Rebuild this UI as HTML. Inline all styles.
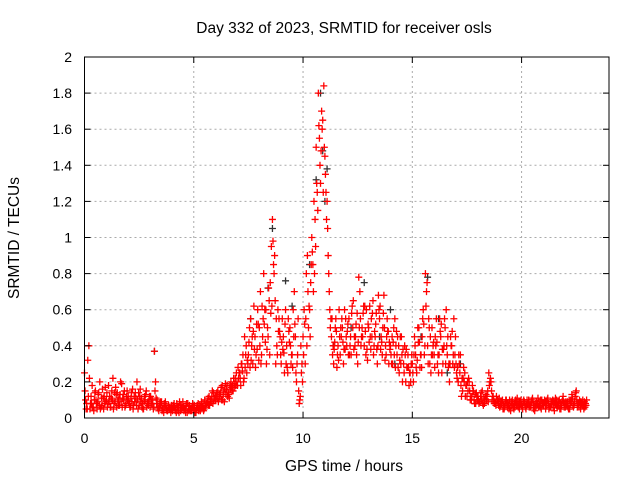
<!DOCTYPE html>
<html><head><meta charset="utf-8"><style>
body{margin:0;background:#fff;}
svg{display:block;font-family:"Liberation Sans",sans-serif;}
</style></head><body>
<svg id="chart" width="640" height="480">
<rect width="640" height="480" fill="#fff"/>
<text x="344" y="33" font-size="15.5" text-anchor="middle">Day 332 of 2023, SRMTID for receiver osls</text>
<text x="344" y="471" font-size="15.5" text-anchor="middle">GPS time / hours</text>
<text x="19" y="238" font-size="15.5" text-anchor="middle" transform="rotate(-90 19 238)">SRMTID / TECUs</text>
<g id="grid"></g><g id="pts"></g><g id="axes"></g>
</svg>
<script>
const xTicks=[0,5,10,15,20];
const yTicks=[0,0.2,0.4,0.6,0.8,1,1.2,1.4,1.6,1.8,2];
const yTickLabels=["0","0.2","0.4","0.6","0.8","1","1.2","1.4","1.6","1.8","2"];
const startHour=0, stepHours=0.1;
const redA=[.25,.08,.40,.12,.06,.15,.09,.20,.07,.12,
.10,.18,.06,.22,.09,.14,.07,.19,.10,.08,
.12,.06,.16,.09,.20,.07,.11,.05,.13,.09,
.06,.10,.37,.08,.04,.07,.05,.09,.04,.06,
.05,.08,.03,.06,.04,.09,.05,.03,.07,.04,
.05,.03,.08,.04,.06,.10,.08,.12,.09,.14,
.10,.15,.12,.18,.09,.16,.13,.20,.15,.22,
.18,.25,.30,.22,.40,.35,.55,.30,.45,.38,
.50,.35,.80,.60,.45,.75,1.10,.90,.40,.55,
.30,.45,.60,.25,.50,.35,.70,.20,.15,.40,
.45,.30,.90,.60,1.00,1.20,1.50,1.80,1.30,1.65,
1.45,1.20,.70,.45,.30,.55,.40,.35,.50,.60,
.40,.55,.35,.65,.45,.30,.70,.50,.40,.60,
.50,.38,.65,.45,.30,.55,.42,.68,.35,.48,
.40,.30,.55,.35,.25,.45,.30,.20,.35,.25,
.30,.45,.25,.50,.35,.60,.80,.40,.30,.50,
.35,.55,.25,.45,.30,.50,.35,.20,.40,.55,
.30,.20,.35,.15,.25,.12,.20,.10,.15,.08,
.12,.09,.15,.08,.10,.25,.20,.12,.08,.10,
.06,.09,.05,.10,.07,.04,.08,.06,.11,.05,
.07,.10,.05,.08,.06,.11,.04,.07,.09,.05,
.08,.05,.11,.06,.09,.04,.10,.07,.05,.12,
.06,.09,.05,.13,.07,.15,.08,.05,.10,.06];
const redB=[.10,.32,.05,.18,.10,.08,.14,.06,.11,.17,
.06,.12,.15,.08,.13,.07,.20,.11,.06,.15,
.08,.14,.07,.11,.05,.16,.08,.12,.06,.10,
.10,.05,.20,.06,.08,.04,.08,.05,.07,.03,
.07,.04,.06,.09,.05,.04,.07,.05,.04,.08,
.03,.07,.05,.09,.04,.07,.11,.09,.15,.11,
.14,.11,.17,.13,.19,.12,.18,.15,.19,.25,
.22,.18,.35,.28,.32,.50,.40,.62,.35,.52,
.70,.45,.60,.38,.65,.95,.85,.30,.60,.45,
.55,.25,.40,.48,.30,.60,.45,.35,.10,.30,
.60,.80,.50,.75,.85,1.10,1.25,1.55,1.70,1.84,
1.25,.90,.50,.35,.42,.28,.60,.45,.30,.55,
.52,.40,.62,.45,.35,.78,.40,.58,.48,.32,
.62,.45,.40,.58,.68,.38,.50,.32,.55,.42,
.30,.50,.40,.28,.45,.20,.40,.28,.18,.30,
.20,.35,.50,.28,.45,.35,.70,.55,.25,.40,
.45,.30,.55,.25,.40,.60,.28,.45,.30,.35,
.22,.30,.12,.28,.18,.15,.10,.18,.08,.12,
.08,.14,.07,.12,.15,.20,.10,.08,.12,.07,
.09,.05,.08,.06,.10,.07,.05,.09,.06,.08,
.05,.08,.10,.06,.09,.05,.08,.11,.06,.08,
.10,.07,.05,.09,.06,.11,.07,.05,.09,.06,
.08,.05,.10,.07,.12,.06,.10,.08,.05,.07];
const redC=[.15,.05,.22,.08,.04,.10,.13,.05,.16,.08,
.14,.09,.11,.05,.17,.10,.13,.06,.15,.12,
.09,.11,.05,.14,.10,.12,.06,.09,.15,.07,
.12,.08,.15,.10,.06,.09,.03,.07,.06,.05,
.04,.06,.08,.03,.07,.06,.03,.08,.05,.06,
.07,.05,.04,.06,.08,.06,.09,.07,.12,.10,
.12,.09,.14,.10,.16,.18,.11,.17,.22,.18,
.28,.22,.26,.45,.25,.42,.32,.48,.28,.60,
.40,.62,.52,.30,.72,.58,.98,.65,.35,.48,
.42,.36,.30,.55,.40,.28,.52,.30,.08,.25,
.35,.55,.70,.45,.92,.80,1.30,1.62,1.48,1.25,
1.35,1.05,.60,.55,.38,.48,.32,.50,.42,.38,
.48,.35,.58,.38,.52,.42,.55,.45,.62,.38,
.42,.55,.35,.52,.40,.62,.35,.50,.45,.30,
.35,.42,.28,.45,.32,.35,.25,.38,.28,.20,
.25,.40,.32,.42,.28,.52,.62,.30,.45,.35,
.28,.42,.35,.52,.38,.30,.45,.30,.48,.28,
.25,.35,.18,.22,.12,.20,.15,.12,.10,.14,
.10,.12,.08,.10,.12,.18,.15,.10,.07,.09,
.07,.10,.06,.08,.05,.09,.06,.10,.07,.09,
.06,.09,.07,.10,.07,.09,.06,.08,.07,.10,
.07,.09,.08,.06,.10,.08,.06,.10,.07,.09,
.09,.06,.08,.11,.09,.10,.06,.09,.07,.08];
const redD=[.05,.12,.08,.06,.14,.05,.07,.11,.05,.09,
.08,.06,.10,.14,.06,.11,.09,.13,.07,.10,
.06,.09,.12,.07,.14,.09,.05,.10,.08,.12,
.08,.06,.11,.05,.09,.05,.06,.04,.05,.07,
.06,.05,.04,.07,.06,.05,.08,.04,.05,.06,
.04,.06,.07,.05,.05,.08,.07,.10,.08,.12,
.11,.13,.10,.15,.13,.14,.16,.18,.17,.20,
.25,.30,.20,.35,.30,.28,.45,.38,.52,.32,
.30,.55,.42,.50,.35,.62,.80,.55,.48,.35,
.38,.52,.28,.42,.35,.45,.25,.55,.12,.20,
.52,.40,.62,.85,.70,.95,1.15,1.40,1.60,1.50,
1.10,.80,.55,.40,.50,.35,.45,.55,.38,.45,
.35,.45,.50,.40,.58,.50,.45,.62,.35,.52,
.45,.58,.48,.38,.60,.45,.58,.40,.48,.38,
.45,.35,.48,.40,.30,.38,.35,.28,.25,.35,
.35,.28,.42,.35,.55,.40,.75,.50,.35,.42,
.40,.35,.48,.38,.55,.40,.30,.40,.35,.45,
.28,.25,.22,.20,.18,.22,.12,.15,.13,.10,
.09,.10,.11,.13,.09,.22,.12,.09,.10,.11,
.08,.07,.10,.08,.06,.10,.08,.07,.09,.10,
.09,.06,.08,.07,.10,.07,.09,.06,.10,.07,
.09,.10,.06,.08,.09,.07,.09,.08,.10,.08,
.07,.10,.09,.06,.14,.08,.09,.07,.09,.10];
const blackHours=[3.2,7.6,8.4,8.6,9.2,9.5,10.3,10.6,10.8,10.9,11.0,11.1,11.4,12.2,12.8,13.5,14.0,14.2,15.4,15.7,16.2,16.6,17.2];
const blackValues=[.37,.55,.72,1.05,.76,.62,.85,1.32,1.80,1.48,1.20,1.38,.40,.50,.75,.45,.60,.30,.45,.78,.55,.25,.30];
const X0=84.5,X1=609,Y0=418,Y1=57;
const xs=h=>X0+(h/24)*(X1-X0);
const ys=v=>Y0-(v/2)*(Y0-Y1);
const NS="http://www.w3.org/2000/svg";
const grid=document.getElementById('grid'),axes=document.getElementById('axes'),pts=document.getElementById('pts');
function mk(tag,attrs,parent){const e=document.createElementNS(NS,tag);for(const k in attrs)e.setAttribute(k,attrs[k]);parent.appendChild(e);return e;}
xTicks.forEach(t=>{
  const x=xs(t);
  if(t>0){const g=mk('line',{x1:x,x2:x,y1:Y0,y2:Y1,stroke:'#aaa','stroke-dasharray':'2,3'},grid);
  
  }
  const tk=mk('line',{x1:x,x2:x,y1:Y0,y2:Y0-6,stroke:'#000'},axes);
  
  
  const tk2=mk('line',{x1:x,x2:x,y1:Y1,y2:Y1+6,stroke:'#000'},axes);
  
  
  const l=mk('text',{x:x,y:443,'font-size':14,'text-anchor':'middle'},axes);l.textContent=t;
  
  
});
yTicks.forEach((t,i)=>{
  const y=ys(t);
  if(t>0&&t<2){const g=mk('line',{x1:X0,x2:X1,y1:y,y2:y,stroke:'#aaa','stroke-dasharray':'2,3'},grid);
  
  }
  const tk=mk('line',{x1:X0,x2:X0+6,y1:y,y2:y,stroke:'#000'},axes);
  
  
  const tk2=mk('line',{x1:X1,x2:X1-6,y1:y,y2:y,stroke:'#000'},axes);
  
  
  const l=mk('text',{x:72,y:y+5,'font-size':14,'text-anchor':'end'},axes);l.textContent=yTickLabels[i];
  
  
});
const frame=mk('rect',{x:X0,y:Y1,width:X1-X0,height:Y0-Y1,fill:'none',stroke:'#000'},axes);


function plus(h,v,col,name){
  const x=xs(h),y=ys(v);
  const p=mk('path',{d:`M${x-3.5},${y}h7M${x},${y-3.5}v7`,stroke:col,'stroke-width':1.3,fill:'none'},pts);
  
  
}
blackHours.forEach((h,i)=>plus(h,blackValues[i],'#333','black-point'));
redA.forEach((v,i)=>plus(startHour+i*stepHours,v,'#f00','red-point'));
redB.forEach((v,i)=>plus(startHour+i*stepHours+0.05,v,'#f00','red-point'));
redC.forEach((v,i)=>plus(startHour+i*stepHours+0.025,v,'#f00','red-point'));
redD.forEach((v,i)=>plus(startHour+i*stepHours+0.075,v,'#f00','red-point'));
</script>
</body></html>
